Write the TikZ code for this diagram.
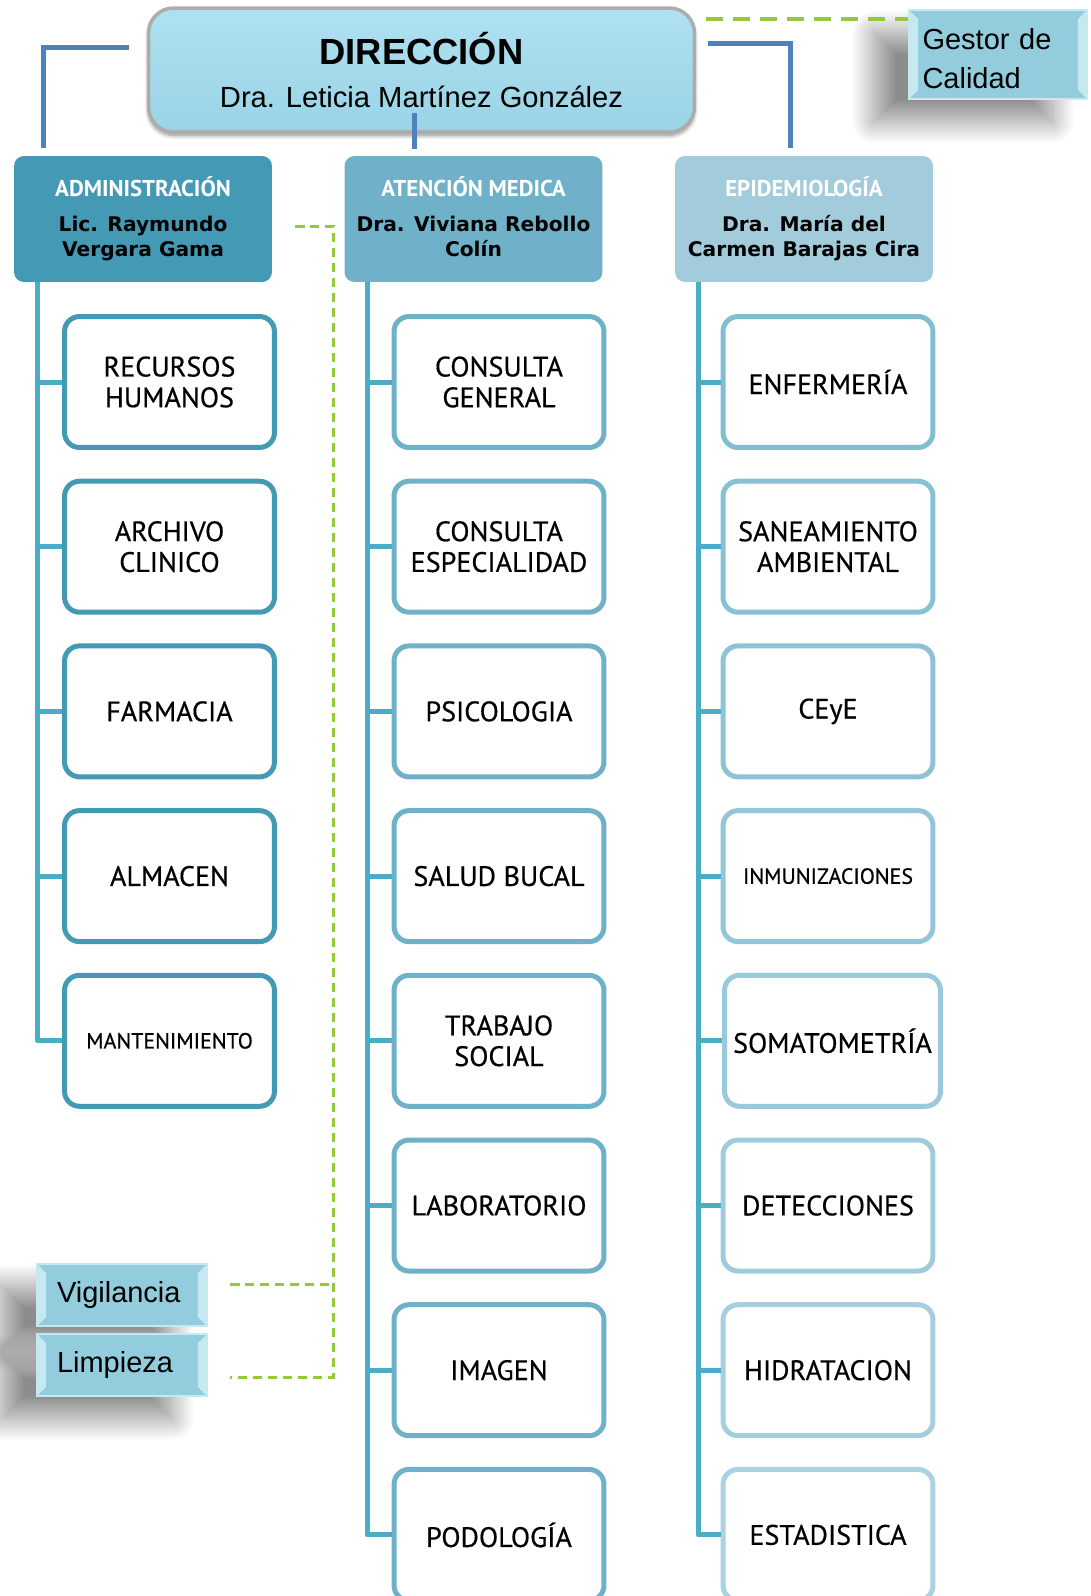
\documentclass[tikz,border=0pt]{standalone}
\usepackage{fontspec}
\setmainfont{Liberation Sans}
\newfontfamily\boxfont{PT Sans}
\newfontfamily\unitfont[FakeBold=0.5]{PT Sans}
\newfontfamily\namefont{DejaVu Sans}
\usetikzlibrary{positioning,shadows.blur}

\definecolor{linkblue}{HTML}{4F81BD}
\definecolor{trunkblue}{HTML}{4BACC6}
\definecolor{qgreen}{HTML}{95C83C}
\definecolor{admC}{HTML}{4499B4}
\definecolor{ateC}{HTML}{6FB1C8}
\definecolor{epiC}{HTML}{A2CBDB}
\definecolor{epiB}{HTML}{82BDD2}
\definecolor{epiL}{HTML}{B2D6E3}
\definecolor{dirTop}{HTML}{AFE1F0}
\definecolor{dirBot}{HTML}{9AD4E7}
\definecolor{bevfill}{HTML}{93CDDD}
\definecolor{bevlight}{HTML}{C6E8F1}

\newcommand{\minifont}{\fontsize{12.5}{14}\selectfont}
\newcommand{\headtitle}[1]{{\boxfont\bfseries\fontsize{13}{14}\selectfont\color{white}#1}}

\begin{document}
\begin{tikzpicture}[x=0.02cm, y=-0.02cm,
    link/.style={line width=0.1cm, color=linkblue},
    trunk/.style={line width=0.1cm, color=trunkblue, line join=round},
    quality/.style={line width=0.08cm, color=qgreen, dash pattern=on 0.34cm off 0.2cm},
    qualitythin/.style={line width=0.06cm, color=qgreen, dash pattern=on 0.19cm off 0.11cm},
    unit/.style={draw, line width=0.1cm, rounded corners=0.3cm, fill=white,
        minimum width=4.2cm, minimum height=2.62cm, inner xsep=0.05cm,
        align=center, font=\unitfont\fontsize{16}{17.5}\selectfont},
    plain/.style={},
    wide/.style={minimum width=4.32cm, xshift=0.09cm},
    head/.style={rounded corners=0.2cm, minimum width=5.16cm, minimum height=2.52cm,
        text depth=2.7pt, align=center, font=\namefont\bfseries\fontsize{11.5}{14.2}\selectfont},
    softshadow/.style={blur shadow={shadow xshift=-0.7cm, shadow yshift=-0.45cm,
        shadow blur radius=0.45cm, shadow opacity=45, shadow blur steps=30}},
    bevel/.style={fill=bevfill, draw=bevlight, line width=0.04cm, align=left,
        font=\fontsize{16.5}{22.2}\selectfont,
        path picture={
            \fill[bevlight] (path picture bounding box.north west) -- ++(9,9)
                -- ([shift={(9,-9)}]path picture bounding box.south west)
                -- (path picture bounding box.south west) -- cycle;
            \fill[bevlight] (path picture bounding box.north east) -- ++(-9,9)
                -- ([shift={(-9,-9)}]path picture bounding box.south east)
                -- (path picture bounding box.south east) -- cycle;
        }}]

    \useasboundingbox (0,0) rectangle (1090,1596);
    \clip (0,0) rectangle (1090,1596);

    % direccion y gestor
    \node[draw=gray!65, line width=0.07cm, rounded corners=0.5cm, top color=dirTop,
        bottom color=dirBot, minimum width=10.92cm, minimum height=2.48cm, align=center,
        font=\fontsize{16.6}{19}\selectfont,
        blur shadow={shadow xshift=0cm, shadow yshift=-0.07cm, shadow blur radius=0.08cm,
            shadow opacity=45, shadow blur steps=10}]
        (dir) at (421.5,70) {{\bfseries\fontsize{20.7}{24}\selectfont DIRECCIÓN}\\[5.2pt]Dra. Leticia Martínez González};
    \node[bevel, softshadow, inner xsep=0.27cm, text width=3.02cm, text depth=17.8pt,
        minimum height=1.78cm] (gestor) at (998,54.5) {Gestor de\\Calidad};

    \coordinate (qg) at (706,19);
    \draw[quality] (qg) -- (qg -| gestor.west);

    % jefaturas
    \node[head, fill=admC] (adm) at (143,219) {\headtitle{ADMINISTRACIÓN}\\[5.8pt]Lic. Raymundo\\Vergara Gama};
    \node[head, fill=ateC] (ate) at (473.5,219) {\headtitle{ATENCIÓN MEDICA}\\[5.8pt]Dra. Viviana Rebollo\\Colín};
    \node[head, fill=epiC] (epi) at (804,219) {\headtitle{EPIDEMIOLOGÍA}\\[5.8pt]Dra. María del\\Carmen Barajas Cira};

    \coordinate (la) at (129,47);
    \coordinate (lb) at (43,148);
    \coordinate (ma) at (414,113);
    \coordinate (mb) at (414,149);
    \coordinate (ra) at (708,43);
    \coordinate (rb) at (790,148);
    \draw[link] (la) -| (lb);
    \draw[link] (ma) -- (mb);
    \draw[link] (ra) -| (rb);

    % departamentos
    \foreach \t [count=\i] in {{RECURSOS\\HUMANOS},{ARCHIVO\\CLINICO},FARMACIA,ALMACEN,{\minifont MANTENIMIENTO}}
        \node[unit, draw=admC] (adm-\i) at (169.5,{217.3+164.7*\i}) {\t};
    \foreach \t [count=\i] in {{CONSULTA\\GENERAL},{CONSULTA\\ESPECIALIDAD},PSICOLOGIA,SALUD BUCAL,
            {TRABAJO\\SOCIAL},LABORATORIO,IMAGEN,PODOLOGÍA}
        \node[unit, draw=ateC] (ate-\i) at (499,{217.3+164.7*\i}) {\t};
    \foreach \t/\o [count=\i, evaluate=\i as \p using 112-12*\i] in {ENFERMERÍA/plain,{SANEAMIENTO\\AMBIENTAL}/plain,
            CEyE/plain,{\minifont INMUNIZACIONES}/plain,SOMATOMETRÍA/wide,
            DETECCIONES/plain,HIDRATACION/plain,ESTADISTICA/plain}
        \node[unit, draw=epiB!\p!epiL, \o] (epi-\i) at (828,{217.3+164.7*\i}) {\t};

    \coordinate (admx) at (37.6,282);
    \coordinate (atex) at (367,282);
    \coordinate (epix) at (698,282);
    \draw[trunk] (adm.south -| admx) |- (adm-5.west);
    \foreach \i in {1,...,4}
        \draw[trunk] (adm-\i.west -| admx) -- (adm-\i.west);
    \draw[trunk] (ate.south -| atex) |- (ate-8.west);
    \foreach \i in {1,...,7}
        \draw[trunk] (ate-\i.west -| atex) -- (ate-\i.west);
    \draw[trunk] (epi.south -| epix) |- (epi-8.west);
    \foreach \i in {1,...,7}
        \draw[trunk] (epi-\i.west -| epix) -- (epi-\i.west);

    % servicios generales
    \node[bevel, softshadow, inner xsep=0.4cm, text width=2.6cm, minimum height=1.24cm] (vig) at (122,1295) {Vigilancia};
    \node[bevel, softshadow, inner xsep=0.4cm, text width=2.6cm, minimum height=1.24cm] (lim) at (122,1365) {Limpieza};

    \coordinate (qa) at (295,226);
    \coordinate (qb) at (333,1377);
    \coordinate (qc) at (230,1377);
    \coordinate (qd) at (230,1284);
    \coordinate (qe) at (333,1284);
    \draw[qualitythin] (qa) -| (qb) -- (qc);
    \draw[qualitythin] (qd) -- (qe);

\end{tikzpicture}
\end{document}
